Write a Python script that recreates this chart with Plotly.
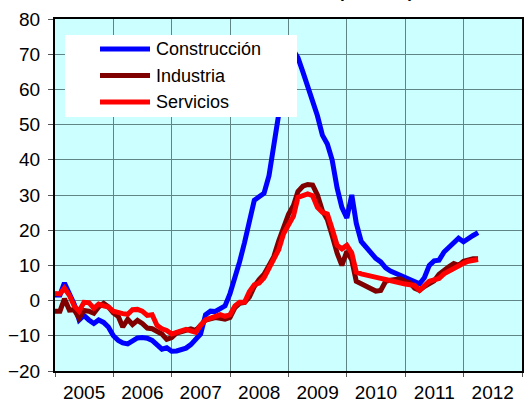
import pandas as pd
import plotly.graph_objects as go

# Monthly series, January 2005 onwards (year-on-year % change)
fechas = pd.date_range("2005-01-01", periods=88, freq="MS")

construccion = [
    1.6, 1.6, 5.0, 2.0, -1.0, -5.5, -4.2, -5.5, -6.5, -5.5, -6.2, -7.5,
    -10.0, -11.3, -12.0, -12.3, -11.5, -10.6, -10.5, -10.7, -11.3, -12.5, -13.8, -13.4,
    -14.4, -14.3, -14.0, -13.5, -12.5, -11.0, -9.5, -4.0, -3.0, -3.1, -2.2, -1.5,
    2.0, 6.5, 11.0, 16.5, 22.5, 28.5, 29.5, 30.5, 35.5, 45.0, 53.0, 61.0,
    67.0, 71.0, 69.0, 65.0, 61.0, 56.5, 52.5, 47.0, 44.5, 40.0, 32.0, 26.5,
    23.5, 30.0, 22.0, 16.8, 15.2, 14.0, 12.0, 11.0, 9.3, 8.4, 7.8, 7.0,
    6.3, 5.8, 5.5, 4.8, 6.5, 10.0, 11.3, 11.5, 13.8, 15.0, 16.5, 17.7,
    16.7, 17.8, 18.5, 19.3,
]

industria = [
    -3.0, -3.0, 0.5, -2.7, -2.6, -5.0, -2.8, -3.0, -3.6, -1.8, -0.8, -1.8,
    -3.5, -4.5, -7.5, -5.3, -6.8, -5.6, -6.5, -7.8, -8.0, -8.6, -9.5, -11.0,
    -10.5, -9.2, -8.8, -8.2, -8.0, -8.5, -7.0, -5.5, -5.2, -4.8, -5.0, -5.3,
    -4.8, -2.0, -0.8, -0.5, 1.0, 4.0, 6.0, 7.5, 10.0, 12.5, 17.0, 21.0,
    24.5, 27.0, 31.0, 32.5, 33.0, 32.8, 30.0, 25.5, 23.0, 18.5, 13.5, 10.0,
    14.0, 11.5, 5.5, 4.8, 4.0, 3.2, 2.7, 2.9, 5.5, 5.8, 6.0, 6.2,
    5.5, 5.0, 3.5, 2.9, 4.0, 5.0, 5.6, 7.5, 8.8, 9.6, 10.5, 10.0,
    11.2, 11.6, 11.9, 11.9,
]

servicios = [
    2.0, 1.9, 3.5, 1.5, -1.5, -3.0, -0.5, -0.6, -2.2, -1.0, -1.5, -1.8,
    -3.0, -3.5, -3.7, -3.9, -2.6, -2.5, -3.0, -4.2, -4.0, -7.0, -8.0, -8.5,
    -9.5, -9.0, -8.5, -8.2, -8.6, -9.0, -7.0, -5.5, -5.0, -4.6, -4.0, -4.5,
    -4.0, -1.5, -0.5, -0.5, 2.5, 4.5, 5.0, 6.5, 9.0, 11.5, 14.5, 19.0,
    21.5, 24.0, 29.3, 29.8, 30.3, 29.8, 26.5, 25.1, 24.6, 20.4, 15.7, 14.7,
    15.7, 13.5, 8.1, 7.6, 7.2, 7.0, 6.7, 6.3, 6.0, 5.6, 5.2, 5.0,
    4.7, 4.5, 4.3, 2.9, 4.3, 5.5, 5.9, 6.3, 7.6, 8.4, 9.2, 10.0,
    10.6, 11.2, 11.5, 11.7,
]

anios = [str(a) for a in range(2005, 2013)]
series = [
    ("Construcción", construccion, "#0000FF"),
    ("Industria", industria, "#800000"),
    ("Servicios", servicios, "#FF0000"),
]

FONT = "Liberation Sans, Arial, sans-serif"
W, H = 524, 403
ML, MR, MT, MB = 55, 2, 19, 32
PW, PH = W - ML - MR, H - MT - MB


def px(x):
    return (x - ML) / PW


def py(y):
    return (H - MB - y) / PH


fig = go.Figure()
for nombre, valores, color in series:
    fig.add_trace(go.Scatter(
        x=fechas, y=valores, mode="lines", name=nombre,
        line=dict(color=color, width=5), showlegend=False,
    ))

# Hand-drawn legend box with long line samples
shapes = [dict(type="rect", xref="paper", yref="paper",
               x0=px(65), x1=px(297), y0=py(117), y1=py(35),
               fillcolor="white", line=dict(width=0), layer="above")]
annotations = []
for k, (nombre, _, color) in enumerate(series):
    yy = 49 + k * 26.5
    shapes.append(dict(type="line", xref="paper", yref="paper",
                       x0=px(100), x1=px(150), y0=py(yy), y1=py(yy),
                       line=dict(color=color, width=5), layer="above"))
    annotations.append(dict(xref="paper", yref="paper", x=px(154), y=py(yy),
                            xanchor="left", yanchor="middle", showarrow=False,
                            text=nombre, font=dict(family=FONT, size=18, color="black")))

# Chart title, sitting above the top edge of the page
annotations.append(dict(xref="paper", yref="paper", x=px(416), y=py(3.5),
                        xanchor="right", yanchor="bottom", showarrow=False,
                        text="<b>Tasa de variación (% anual)</b>",
                        font=dict(family=FONT, size=17, color="black")))

fig.update_layout(
    width=W, height=H,
    margin=dict(l=ML, r=MR, t=MT, b=MB),
    paper_bgcolor="white", plot_bgcolor="#CCFFFF",
    font=dict(family=FONT, size=19, color="black"),
    shapes=shapes, annotations=annotations,
    showlegend=False,
)
fig.update_xaxes(
    type="date", range=["2005-01-01", "2013-01-01"],
    tickmode="array",
    tickvals=[f"{a}-07-02" for a in anios], ticktext=anios,
    ticks="", showgrid=False, zeroline=False, ticklabelstandoff=3,
    automargin=False,
    showline=True, linecolor="black", linewidth=2, mirror=True,
    minor=dict(tick0="2005-01-01", dtick="M12", ticks="outside", ticklen=4,
               tickcolor="#555555", showgrid=True, gridcolor="#5f8585", gridwidth=1),
    tickfont=dict(family=FONT, size=19),
)
fig.update_yaxes(
    range=[-20, 80], dtick=10, tick0=0,
    ticks="outside", ticklen=5, tickcolor="#555555", ticklabelstandoff=4,
    automargin=False,
    showgrid=True, gridcolor="#5f8585", gridwidth=1, zeroline=False,
    showline=True, linecolor="black", linewidth=2, mirror=True,
    tickfont=dict(family=FONT, size=19),
)

fig.write_html("out.html")
